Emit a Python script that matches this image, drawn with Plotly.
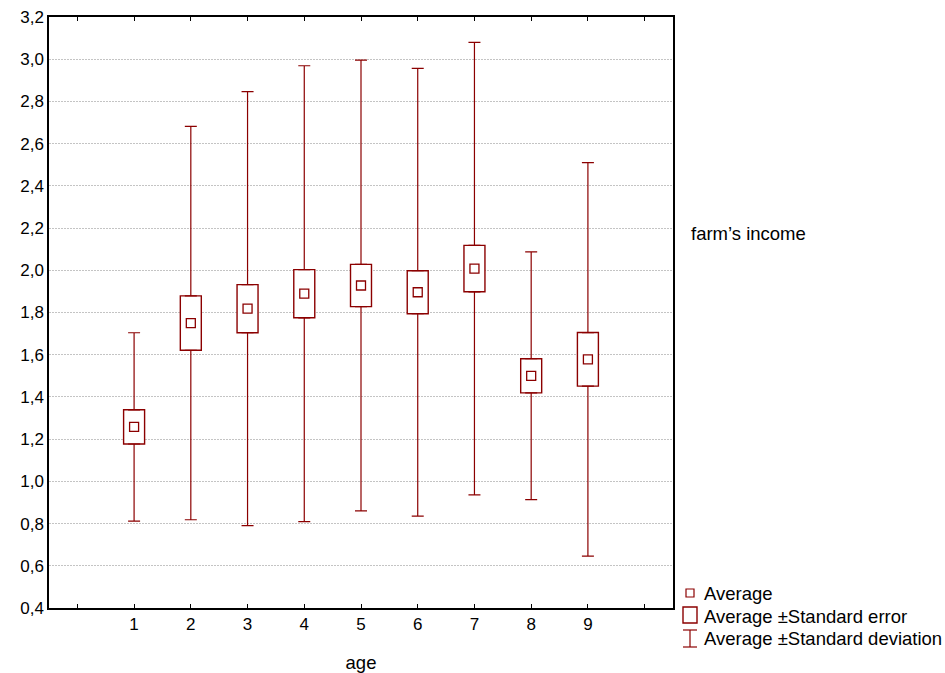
import plotly.graph_objects as go

# age groups and the statistics
ages = [1, 2, 3, 4, 5, 6, 7, 8, 9]
avg = [1.258, 1.750, 1.818, 1.889, 1.928, 1.896, 2.008, 1.500, 1.578]
std_err = [0.081, 0.129, 0.114, 0.114, 0.100, 0.102, 0.110, 0.081, 0.127]
std_dev = [0.446, 0.932, 1.028, 1.080, 1.068, 1.061, 1.072, 0.587, 0.932]

y_ticks = [0.4, 0.6, 0.8, 1.0, 1.2, 1.4, 1.6, 1.8, 2.0, 2.2, 2.4, 2.6, 2.8, 3.0, 3.2]
y_labels = [f"{v:.1f}".replace(".", ",") for v in y_ticks]
x_ticks = list(range(0, 11))
x_labels = [""] + [str(a) for a in ages] + [""]

RED = "#8B0000"
FONT = "Liberation Sans"

W, H = 945, 673
# plot area in pixels (for placing the hand-made legend)
L, R, T, B = 49, 673, 17, 608


def px(x):
    return (x - L) / (R - L)


def py(y):
    return (B - y) / (B - T)


fig = go.Figure()

# standard error boxes
fig.add_trace(go.Bar(
    x=ages,
    y=[2 * s for s in std_err],
    base=[m - s for m, s in zip(avg, std_err)],
    width=0.37,
    marker=dict(color="white", line=dict(color=RED, width=1.4)),
    showlegend=False,
    hoverinfo="skip",
))

# upper whiskers (box top -> average + sd)
fig.add_trace(go.Scatter(
    x=ages,
    y=[m + s for m, s in zip(avg, std_err)],
    mode="markers",
    marker=dict(size=1, color="rgba(0,0,0,0)"),
    error_y=dict(type="data", symmetric=False,
                 array=[d - s for d, s in zip(std_dev, std_err)],
                 arrayminus=[0] * len(ages),
                 color=RED, thickness=1.2, width=6),
    showlegend=False,
    hoverinfo="skip",
))

# lower whiskers (average - sd -> box bottom)
fig.add_trace(go.Scatter(
    x=ages,
    y=[m - s for m, s in zip(avg, std_err)],
    mode="markers",
    marker=dict(size=1, color="rgba(0,0,0,0)"),
    error_y=dict(type="data", symmetric=False,
                 array=[0] * len(ages),
                 arrayminus=[d - s for d, s in zip(std_dev, std_err)],
                 color=RED, thickness=1.2, width=6),
    showlegend=False,
    hoverinfo="skip",
))

# averages
fig.add_trace(go.Scatter(
    x=ages, y=avg, mode="markers",
    marker=dict(symbol="square-open", size=9, color=RED, line=dict(width=1.3)),
    showlegend=False,
))

# legend drawn by hand
shapes = [
    dict(type="rect", xref="paper", yref="paper",
         x0=px(686), x1=px(694), y0=py(597), y1=py(589),
         line=dict(color=RED, width=1.2)),
    dict(type="rect", xref="paper", yref="paper",
         x0=px(683), x1=px(697), y0=py(623), y1=py(607),
         line=dict(color=RED, width=1.4)),
    dict(type="line", xref="paper", yref="paper",
         x0=px(690), x1=px(690), y0=py(647), y1=py(630),
         line=dict(color=RED, width=1.2)),
    dict(type="line", xref="paper", yref="paper",
         x0=px(683), x1=px(697), y0=py(630), y1=py(630),
         line=dict(color=RED, width=1.2)),
    dict(type="line", xref="paper", yref="paper",
         x0=px(683), x1=px(697), y0=py(647), y1=py(647),
         line=dict(color=RED, width=1.2)),
]

LEG = 18.5
annotations = [
    dict(text="farm’s income", xref="paper", yref="paper", x=px(689), y=py(233),
         xanchor="left", yanchor="middle", showarrow=False, font=dict(size=LEG)),
    dict(text="Average", xref="paper", yref="paper", x=px(702), y=py(593),
         xanchor="left", yanchor="middle", showarrow=False, font=dict(size=LEG)),
    dict(text="Average ±Standard error", xref="paper", yref="paper", x=px(702), y=py(616),
         xanchor="left", yanchor="middle", showarrow=False, font=dict(size=LEG)),
    dict(text="Average ±Standard deviation", xref="paper", yref="paper", x=px(702), y=py(639),
         xanchor="left", yanchor="middle", showarrow=False, font=dict(size=LEG)),
]

fig.update_layout(
    width=W,
    height=H,
    margin=dict(l=L, r=W - R, t=T, b=H - B, autoexpand=False),
    plot_bgcolor="white",
    paper_bgcolor="white",
    font=dict(family=FONT, size=17, color="black"),
    showlegend=False,
    shapes=shapes,
    annotations=annotations,
    xaxis=dict(
        range=[-0.5, 10.5],
        tickvals=x_ticks,
        ticktext=x_labels,
        ticks="inside",
        ticklen=4,
        tickcolor="black",
        showline=True,
        linecolor="black",
        linewidth=1.5,
        mirror="ticks",
        showgrid=False,
        zeroline=False,
        automargin=False,
        title=dict(text="age", standoff=24, font=dict(size=LEG)),
    ),
    yaxis=dict(
        range=[0.4, 3.2],
        tickvals=y_ticks,
        ticktext=y_labels,
        ticks="",
        ticklabeloverflow="allow",
        showline=True,
        linecolor="black",
        linewidth=1.5,
        mirror=True,
        showgrid=True,
        gridcolor="#c4c4c4",
        griddash="2px,1px",
        gridwidth=1,
        zeroline=False,
        automargin=False,
    ),
    yaxis2=dict(
        range=[0.4, 3.2],
        overlaying="y",
        side="right",
        tickvals=y_ticks,
        ticks="inside",
        ticklen=4,
        tickcolor="black",
        showticklabels=False,
        showgrid=False,
        zeroline=False,
        showline=False,
        automargin=False,
    ),
)

# drop the default page margin so the figure sits at the window's corner
fig.write_html(
    "out.html",
    config={"displayModeBar": False},
    post_script="document.body.style.margin='0';document.body.style.overflow='hidden';",
)
